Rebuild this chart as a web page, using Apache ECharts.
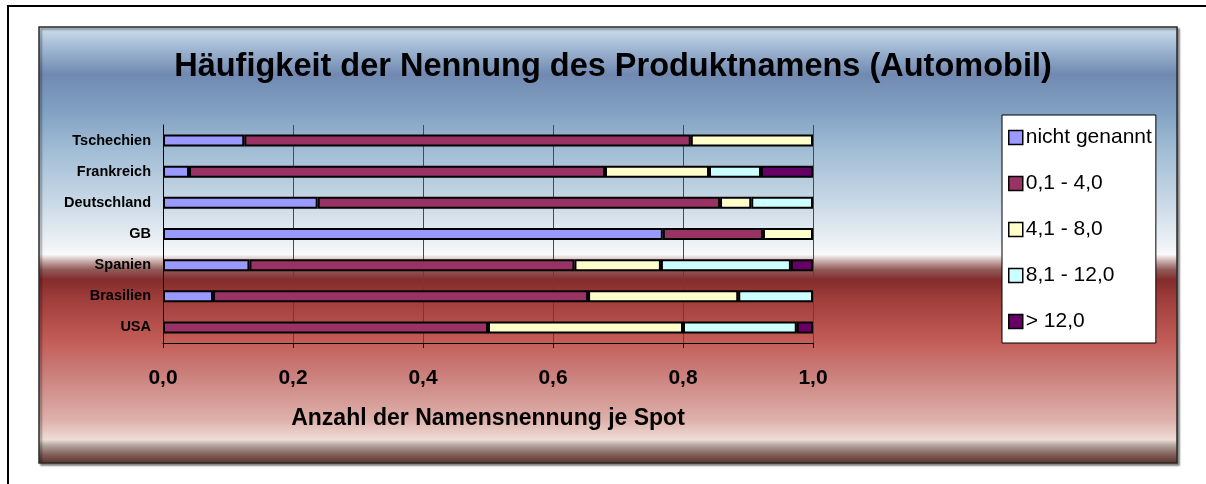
<!DOCTYPE html>
<html>
<head>
<meta charset="utf-8">
<script src="https://cdn.jsdelivr.net/npm/echarts@6/dist/echarts.min.js"></script>
<style>
    html, body { margin: 0; padding: 0; background: #ffffff; }
    #chart { width: 1206px; height: 484px; }
</style>
</head>
<body>
<div id="chart"></div>
<script>
const FONT = "'Liberation Sans', Arial, sans-serif";

const countries = ["Tschechien", "Frankreich", "Deutschland", "GB", "Spanien", "Brasilien", "USA"];
const seriesNames = ["nicht genannt", "0,1 - 4,0", "4,1 - 8,0", "8,1 - 12,0", "> 12,0"];
const seriesColors = ["#9999ff", "#993366", "#ffffcc", "#ccffff", "#660066"];

const nichtGenannt = [0.125, 0.04, 0.238, 0.769, 0.133, 0.077, 0];
const bis4 = [0.687, 0.64, 0.619, 0.154, 0.5, 0.577, 0.5];
const bis8 = [0.188, 0.16, 0.048, 0.077, 0.133, 0.231, 0.3];
const bis12 = [0, 0.08, 0.095, 0, 0.2, 0.115, 0.175];
const ueber12 = [0, 0.08, 0, 0, 0.034, 0, 0.025];
const seriesValues = [nichtGenannt, bis4, bis8, bis12, ueber12];

const xTicks = [0, 0.2, 0.4, 0.6, 0.8, 1.0];

function toItems(values) {
    // zero-width pieces would still show their black outline
    return values.map((v) => (v === 0 ? { value: 0, itemStyle: { borderWidth: 0 } } : v));
}

const backgroundFill = {
    type: "linear",
    x: 0, y: 0, x2: 0, y2: 1,
    colorStops: [
        { offset: 0, color: "#d2e2ee" },
        { offset: 0.04, color: "#a8c0d8" },
        { offset: 0.11, color: "#7189b1" },
        { offset: 0.19, color: "#80a0c2" },
        { offset: 0.28, color: "#a0bcd4" },
        { offset: 0.40, color: "#c8d8e6" },
        { offset: 0.50, color: "#eef2f6" },
        { offset: 0.522, color: "#f9f9fa" },
        { offset: 0.538, color: "#c8a8a6" },
        { offset: 0.556, color: "#905c5a" },
        { offset: 0.579, color: "#842c2c" },
        { offset: 0.625, color: "#a03e3c" },
        { offset: 0.716, color: "#c25b56" },
        { offset: 0.808, color: "#cd8581" },
        { offset: 0.899, color: "#deb0aa" },
        { offset: 0.945, color: "#eedcd6" },
        { offset: 0.959, color: "#b0a09a" },
        { offset: 0.979, color: "#80605a" },
        { offset: 1, color: "#5a3028" },
    ],
};

const chart = echarts.init(document.getElementById("chart"));

chart.setOption({
    animation: false,
    textStyle: { fontFamily: FONT },
    graphic: [
        {
            type: "rect",
            z: -20,
            silent: true,
            shape: { x: 8, y: 6, width: 1400, height: 700 },
            style: { fill: "#ffffff", stroke: "#000000", lineWidth: 2 },
        },
        {
            type: "rect",
            z: -10,
            silent: true,
            shape: { x: 39, y: 27, width: 1138, height: 436 },
            style: {
                fill: backgroundFill,
                stroke: "#2a2a2a",
                lineWidth: 1.5,
                shadowColor: "rgba(0,0,0,0.45)",
                shadowOffsetX: 2,
                shadowOffsetY: 2,
                shadowBlur: 2,
            },
        },
    ],
    title: {
        text: "Häufigkeit der Nennung des Produktnamens (Automobil)",
        left: 608,
        textAlign: "center",
        top: 46,
        textStyle: { fontFamily: FONT, fontSize: 32.5, fontWeight: "bold", color: "#000000" },
    },
    legend: {
        orient: "vertical",
        left: 1002,
        top: 115,
        padding: [12, 4, 11, 6],
        itemGap: 25,
        itemWidth: 14,
        itemHeight: 14,
        icon: "rect",
        backgroundColor: "#ffffff",
        borderColor: "#000000",
        borderWidth: 1,
        itemStyle: { borderColor: "#000000", borderWidth: 1.5 },
        textStyle: { fontFamily: FONT, fontSize: 21, color: "#000000", padding: [0, 0, 0, -2] },
        data: seriesNames,
    },
    grid: {
        left: 163,
        right: 393,
        top: 125,
        bottom: 141,
        containLabel: false,
    },
    xAxis: {
        type: "value",
        min: 0,
        max: 1,
        interval: 0.2,
        axisLine: { show: true, lineStyle: { color: "#000000", width: 1 } },
        axisTick: { show: true, length: 5, lineStyle: { color: "#000000" } },
        splitLine: { show: true, lineStyle: { color: "#4a4a4a", width: 1 } },
        axisLabel: {
            margin: 25,
            fontFamily: FONT,
            fontSize: 21,
            fontWeight: "bold",
            color: "#000000",
            formatter(value) {
                const tick = xTicks.find((t) => Math.abs(t - value) < 1e-9);
                return (tick ?? value).toFixed(1).replace(".", ",");
            },
        },
        name: "Anzahl der Namensnennung je Spot",
        nameLocation: "middle",
        nameGap: 64,
        nameTextStyle: { fontFamily: FONT, fontSize: 23, fontWeight: "bold", color: "#000000" },
    },
    yAxis: {
        type: "category",
        inverse: true,
        data: countries,
        axisLine: { show: true, lineStyle: { color: "#000000", width: 1 } },
        axisTick: { show: false },
        splitLine: { show: false },
        axisLabel: {
            margin: 12,
            fontFamily: FONT,
            fontSize: 14.5,
            fontWeight: "bold",
            color: "#000000",
        },
    },
    series: seriesNames.map((name, i) => ({
        name,
        type: "bar",
        stack: "total",
        barWidth: 12,
        data: toItems(seriesValues[i]),
        itemStyle: { color: seriesColors[i], borderColor: "#000000", borderWidth: 2 },
        emphasis: { disabled: true },
    })),
});
</script>
</body>
</html>
